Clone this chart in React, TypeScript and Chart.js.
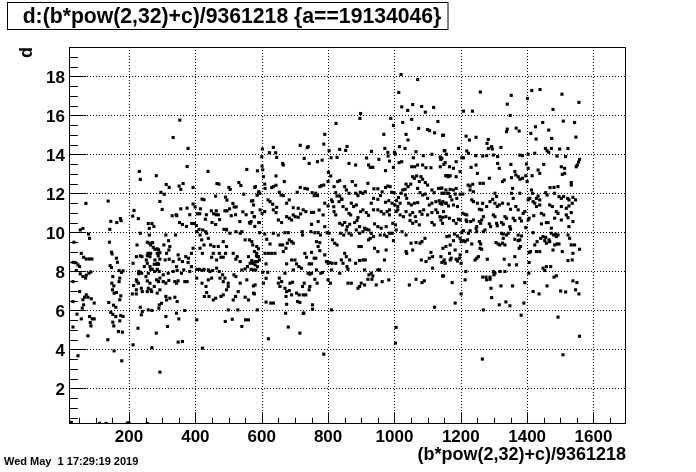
import React, { useEffect, useRef } from "react";
import { Chart, registerables } from "chart.js";

Chart.register(...registerables);

const X_MIN = 19;
const X_MAX = 1698;
const Y_MIN = 0.17;
const Y_MAX = 19.5;
const xTickValues = [200, 400, 600, 800, 1000, 1200, 1400, 1600];
const yTickValues = [2, 4, 6, 8, 10, 12, 14, 16, 18];
const titleText = "d:(b*pow(2,32)+c)/9361218 {a==19134046}";
const xTitle = "(b*pow(2,32)+c)/9361218";
const yTitle = "d";
const dateText = "Wed May  1 17:29:19 2019";

// upper-left region (x < 600, d > 10)
const ptsUpperLeft: number[][] = [
  [70,11.48],[137,11.6],[353,15.75],[333,14.86],[378,14.3],[231,13.12],[234,12.71],[282,12.9],[375,13.37],[438,13.12],[555,13.22],[587,13.15],[312,12.45],[321,12.3],[351,12.37],[363,12.5],[356,12.2],[393,12.3],[465,12.5],[471,12.47],[531,12.55],[537,12.4],[579,12.3],[501,12.3],[505,12.2],[296,12.05],[306,11.95],[546,11.95],[590,12.0],[586,11.9],[461,11.85],[491,11.8],[495,11.65],[420,11.7],[426,11.67],[293,11.58],[300,11.17],[375,11.24],[393,11.45],[399,11.3],[415,11.2],[448,11.1],[463,11.1],[489,11.1],[495,11.1],[513,11.48],[517,11.3],[503,11.2],[523,11.3],[543,11.05],[569,11.6],[575,11.4],[330,10.85],[342,10.9],[344,10.85],[356,11.2],[211,10.83],[215,11.12],[228,10.7],[174,10.7],[176,10.6],[145,10.56],[163,10.5],[61,10.2],[142,10.15],[258,10.45],[269,10.45],[275,10.3],[261,10.2],[352,10.5],[361,10.4],[373,10.3],[389,10.45],[397,10.45],[403,10.35],[406,10.95],[413,10.95],[383,10.9],[433,10.9],[455,10.95],[463,10.9],[469,10.9],[473,10.65],[450,10.5],[461,10.4],[430,10.67],[508,10.85],[521,10.9],[534,10.55],[563,10.5],[568,10.55],[578,10.8],[591,10.5],[486,10.15],[493,10.15],[579,10.3],[411,10.15],[553,10.9]
];

// lower-left region (x < 600, d < 10.6)
const ptsLowerLeft: number[][] = [
  [53,10.12],[34,9.49],[78,9.91],[81,9.69],[56,8.92],[63,8.72],[71,8.63],[81,8.63],[88,8.63],[31,8.46],[38,8.44],[46,8.33],[51,8.24],[41,8.04],[53,7.87],[61,7.73],[71,7.8],[79,7.9],[85,7.97],[69,7.65],[31,7.47],[51,6.96],[71,6.79],[66,6.67],[76,6.67],[86,6.59],[61,6.54],[95,6.37],[31,6.45],[63,6.28],[59,6.11],[43,5.8],[56,5.56],[81,5.68],[89,5.56],[95,5.56],[83,5.37],[85,5.2],[31,5.14],[76,4.69],[46,3.67],[20,0.25],[26,0.25],[111,0.2],[131,0.2],[195,0.22],[200,0.21],[255,0.2],
  [141,9.49],[147,8.98],[149,8.89],[162,8.67],[165,8.46],[143,8.29],[147,8.19],[170,8.04],[177,7.94],[182,8.02],[151,7.73],[172,7.65],[170,7.47],[148,7.39],[154,7.25],[150,7.05],[155,6.88],[162,6.91],[175,6.74],[172,6.54],[139,6.4],[153,6.26],[160,6.16],[145,5.89],[151,5.79],[160,5.68],[175,5.73],[182,5.68],[172,5.46],[151,5.39],[154,5.2],[168,4.91],[180,4.88],[136,4.49],[155,3.92],[178,3.41],
  [210,6.84],[222,6.84],[214,7.27],[222,7.05],[224,7.47],[229,7.99],[234,7.95],[229,7.87],[212,8.41],[222,8.75],[234,8.79],[239,8.75],[224,9.35],[255,9.49],[261,9.44],[271,9.47],[257,8.92],[252,8.58],[255,8.41],[246,8.24],[234,9.95],[261,9.86],[265,9.35],[273,9.23],[278,9.13],[285,9.15],[289,9.1],[265,8.92],[285,8.92],[288,8.79],[293,8.95],[255,8.8],[263,8.75],[278,8.58],[286,8.41],[276,8.36],[283,8.36],[289,8.36],[263,8.24],[265,8.1],[293,8.62],[238,7.9],[270,8.1],[277,7.99],[285,8.1],[291,7.99],[258,7.9],[251,7.73],[255,7.51],[263,7.39],[283,7.56],[293,7.65],
  [311,9.86],[305,9.35],[319,9.57],[323,9.27],[340,9.86],[313,8.92],[320,9.09],[309,8.58],[321,8.62],[333,8.5],[348,8.84],[351,8.62],[361,8.5],[371,8.75],[379,8.67],[343,8.24],[345,8.04],[333,7.99],[318,7.9],[303,7.82],[358,7.9],[365,8.07],[388,8.92],[393,9.18],[378,8.45],[388,8.24],[383,7.99],[422,10.12],[431,10.03],
  [404,8.1],[412,8.1],[420,8.04],[426,8.1],[439,8.07],[444,7.99],[452,8.04],[464,8.16],[472,7.99],[482,7.82],[489,7.65],[499,7.39],[516,7.82],[522,7.73],[540,8.07],[550,8.12],[557,8.24],[565,8.41],[570,8.55],[575,8.07],[580,8.33],[587,8.5],[590,8.75],
  [494,10.12],[504,9.95],[522,10.03],[535,9.95],[540,10.03],[550,9.61],[563,9.61],[573,9.35],[434,9.95],[439,9.69],[446,9.35],[456,9.27],[469,9.27],[484,9.52],[494,9.27],[472,8.92],[477,8.72],[484,8.72],[491,8.92],[514,8.92],[522,8.62],[526,8.75],[535,8.5],[464,8.58],[454,8.92],[449,8.72],[414,9.18],[421,8.92],[419,9.61],[426,9.35],[404,10.03],[414,9.86],[578,9.01],[584,8.79],[593,8.58],[560,8.75],
  [222,7.56],[228,7.39],[289,7.47],[276,7.22],[266,7.05],[258,7.13],[237,7.13],[240,6.96],[255,6.96],[268,6.96],[293,7.05],[285,6.88],[311,7.39],[303,7.47],[320,7.53],[338,7.47],[343,7.39],[348,7.51],[368,7.47],[375,7.47],[311,6.71],[313,6.53],[323,6.62],[338,6.67],[345,6.45],[298,6.36],[291,6.28],[234,6.16],[240,5.94],[237,5.77],[258,6.02],[269,5.99],[290,6.11],[311,5.68],[316,5.17],[343,5.85],[350,5.56],[368,5.99],[227,5.08],[282,4.83],[348,4.37],[361,4.4],[293,2.83],[212,4.23],[269,4.08],[421,4.06],[404,5.51],[427,6.71],[434,6.91],[441,6.71],[432,7.22],[454,6.53],[461,6.62],[477,6.71],[484,6.79],[494,7.05],[499,7.22],[514,6.53],[521,6.71],[529,6.96],[550,6.67],[560,6.53],[575,6.88],[580,7.3],[540,5.17],[551,5.51],[560,5.51],[490,5.43],[499,6.02],[511,5.54],[528,6.02],[484,7.47],[474,7.65],[449,7.65],[439,7.56],[420,7.39],[404,7.65],[535,7.39],[555,7.56]
];

// upper-middle region (600-1160, d > 10)
const ptsUpperMid: number[][] = [
  [1020,18.09],[1070,17.83],[1013,17.17],[1022,16.43],[1040,16.25],[1055,16.55],[1082,16.45],[1093,16.16],[1118,16.4],[1025,15.63],[1052,15.79],[1073,15.33],[1100,15.27],[1106,15.21],[1121,15.1],[1131,15.68],[1145,14.97],[898,16.09],[896,15.84],[824,15.58],[989,15.84],[997,15.48],[968,15.02],[790,15.02],[1035,15.02],[1041,14.73],[716,14.46],[737,14.34],[740,14.39],[602,14.27],[623,14.08],[635,14.35],[642,14.08],[787,14.52],[803,14.18],[835,14.25],[857,14.4],[853,14.2],[931,14.15],[971,14.3],[980,14.1],[1000,14.1],[1003,14.01],[1015,14.39],[1032,14.3],[1065,14.13],[1087,13.93],[1113,14.0],[1138,13.86],[1150,14.18],[1157,14.0],
  [645,13.84],[600,13.87],[601,13.4],[603,13.2],[663,13.53],[665,13.45],[728,13.79],[743,13.53],[768,13.62],[782,13.7],[809,13.82],[827,13.84],[863,13.53],[883,13.45],[916,13.81],[922,13.45],[927,13.33],[935,13.33],[953,13.74],[981,13.91],[985,13.65],[973,13.16],[997,13.33],[1014,13.57],[1022,13.62],[1052,13.36],[1057,13.82],[1061,13.36],[1070,13.45],[1085,13.45],[1095,13.31],[1110,13.31],[1140,13.76],[1149,13.48],[1155,12.9],[1160,12.9],
  [605,12.85],[643,12.89],[668,12.6],[643,12.41],[635,12.34],[630,12.29],[581,12.34],[573,11.62],[609,12.47],[610,12.25],[591,12.08],[593,12.0],[716,12.3],[730,12.25],[738,12.22],[707,12.05],[752,12.03],[758,11.88],[763,12.0],[768,11.88],[775,12.34],[780,12.39],[787,12.42],[801,13.07],[800,12.6],[808,12.89],[653,12.05],[658,11.91],[665,11.88],[619,11.66],[625,11.57],[633,11.44],[645,11.28],[683,11.66],[675,11.49],[695,11.26],[710,11.23],[695,10.89],[701,10.8],[717,10.94],[750,11.02],[756,11.02],[773,11.14],[785,10.89],
  [818,12.34],[823,12.03],[827,11.86],[835,11.86],[842,11.69],[829,12.6],[835,12.65],[813,11.57],[817,11.31],[833,11.57],[840,11.71],[850,12.34],[855,12.17],[863,12.0],[873,12.6],[883,12.41],[883,12.0],[890,11.88],[897,12.05],[905,12.0],[912,12.08],[920,12.51],[938,12.23],[950,12.23],[937,11.74],[950,11.69],[958,11.88],[963,12.07],[973,12.29],[980,12.37],[987,12.34],[992,12.05],[999,12.03],[973,11.54],[983,11.62],[993,11.49],[1001,11.4],[1006,11.62],[1012,11.78],[1020,12.0],[1025,12.17],[1032,12.2],[1035,12.47],[1041,12.34],[1049,12.47],[1055,12.85],[1060,12.77],[1067,12.89],[1075,12.6],[1080,12.85],[1085,12.72],[1093,12.55],[1100,12.42],[1070,12.25],[1077,12.03],[1085,11.91],[1093,11.96],[1100,11.74],[1113,12.17],[1120,12.03],[1133,12.25],[1140,12.25],[1143,12.0],[1155,12.17],[1163,12.0],[1033,11.91],[1037,11.74],
  [1010,11.32],[1017,11.49],[1043,11.49],[1051,11.4],[1060,11.49],[1070,11.52],[1105,11.4],[1113,11.49],[1125,11.57],[1135,11.62],[1143,11.44],[1155,11.49],[1163,11.35],[1005,11.06],[1010,11.15],[1017,10.89],[1027,10.8],[1035,11.06],[1047,10.89],[1055,11.01],[1063,10.8],[1077,11.06],[1083,10.92],[1088,11.15],[1100,10.89],[1113,11.01],[1125,11.15],[1130,11.01],[1137,10.8],[1148,11.06],[1155,10.8],[870,11.49],[877,11.32],[885,11.4],[898,11.06],[905,11.15],[915,11.01],[922,10.87],[930,11.49],[937,11.15],[950,11.15],[960,11.06],[968,10.94],[978,11.06],[985,11.15],[818,11.06],[823,10.89],[845,11.32],[855,11.18],[863,10.97],[868,10.89],[890,10.75],[985,10.89],[571,11.01],[577,10.8],[595,11.15],[601,10.97],[609,11.06],[635,11.15],[643,11.01],[675,10.8],[683,10.72],[725,11.15],[733,11.06],[790,11.49],[800,11.35],[810,11.66],
  [835,10.46],[843,10.38],[850,10.5],[858,10.29],[865,10.41],[880,10.5],[887,10.6],[895,10.29],[910,10.21],[915,10.16],[940,10.43],[950,10.29],[960,10.21],[975,10.29],[995,10.46],[1003,10.38],[1047,10.6],[1055,10.46],[1065,10.55],[1075,10.38],[1113,10.5],[1120,10.38],[1140,10.63],[1145,10.46],[593,10.5],[650,10.63],[660,10.5],[690,10.63],[710,10.77],[750,10.41],[770,10.55],[790,10.29],[565,10.46]
];

// lower-middle region (565-1160, d < 10.6)
const ptsLowerMid: number[][] = [
  [593,9.98],[609,9.91],[615,9.64],[570,9.52],[585,9.27],[590,9.15],[573,8.41],[580,8.5],[585,8.92],[587,8.75],[568,8.1],[582,8.07],[587,8.24],[603,7.95],[618,7.95],[613,7.64],[605,7.39],[575,7.25],[578,6.84],[613,6.42],[627,6.37],[635,6.37],[587,6.02],[620,4.54],[635,9.95],[650,9.86],[625,9.4],[610,8.92],[620,8.92],[630,8.92],[640,8.92],[613,8.38],[655,9.35],[663,9.35],[670,9.98],[680,9.98],[665,9.01],[673,9.18],[683,9.61],[690,9.52],[695,9.44],[677,9.44],[675,8.38],[690,8.58],[700,8.58],[705,8.38],
  [695,8.07],[712,8.24],[720,8.16],[670,7.9],[653,7.65],[660,7.47],[650,7.39],[655,7.22],[670,7.13],[685,7.39],[693,7.44],[675,6.96],[683,7.01],[673,6.71],[690,6.79],[675,6.31],[672,5.85],[705,6.88],[713,6.79],[708,6.45],[715,6.4],[725,6.79],[733,6.79],[725,5.85],[680,5.14],[715,4.83],[722,10.03],[748,10.03],[723,9.86],[760,9.98],[770,9.98],[777,9.86],[765,9.52],[775,9.47],[730,8.92],[735,8.72],[750,8.97],[758,8.67],[763,8.67],[770,9.27],[775,9.06],[743,8.38],[750,8.38],[740,7.9],[745,7.85],[750,7.9],[765,8.07],[778,7.9],[783,7.94],[760,7.59],[767,7.39],[745,7.22],[743,7.05],[728,7.39],[723,7.22],[753,6.28],[753,6.06],[727,5.85],[787,3.75],
  [797,9.98],[803,9.95],[790,8.84],[795,8.5],[800,8.41],[805,8.45],[812,8.41],[810,8.07],[800,7.56],[807,7.39],[810,6.02],[813,9.61],[820,9.44],[827,9.35],[837,9.95],[847,9.86],[855,10.12],[863,9.95],[870,9.86],[850,8.92],[855,8.75],[840,8.58],[845,8.41],[823,8.41],[857,8.24],[860,8.1],[835,7.9],[865,8.58],[883,8.41],[895,8.55],[860,7.39],[870,7.39],[890,7.13],[895,7.22],[900,7.39],[910,7.3],[905,8.58],[912,8.58],[910,8.07],[923,7.82],[930,7.9],[920,7.59],[935,7.76],[932,7.59],[945,7.3],[950,8.07],[955,8.07],[963,7.47],[970,8.58],[975,9.09],[983,7.56],[1005,5.12],[1003,4.32],
  [885,10.12],[895,9.95],[905,10.03],[915,10.15],[923,10.12],[930,9.95],[937,9.78],[940,9.18],[950,9.01],[957,9.86],[970,9.86],[977,9.78],[985,9.95],[993,9.95],[997,9.57],[922,9.61],[927,9.69],[893,9.27],[900,9.27],[1023,10.03],[1035,9.86],[1035,9.01],[1037,8.92],[1050,9.44],[1055,9.09],[1065,9.47],[1077,9.44],[1083,9.52],[1092,9.69],[1110,8.97],[1115,8.75],[1105,8.67],[1081,8.58],[1095,8.5],[1143,8.45],[1150,8.58],[1115,8.16],[1045,7.3],[1065,7.59],[1083,7.42],[1090,7.51],[1145,7.76],[1121,6.16],[1005,10.12]
];

// upper-right region (x > 1138, d > 10)
const ptsUpperRight: number[][] = [
  [1259,17.19],[1352,17.02],[1414,17.27],[1439,17.32],[1505,17.08],[1556,16.66],[1340,16.57],[1401,16.86],[1208,16.21],[1235,16.21],[1478,16.3],[1349,15.99],[1148,14.98],[1447,15.63],[1509,15.7],[1543,15.63],[1425,15.41],[1338,15.16],[1340,15.29],[1367,15.34],[1376,15.19],[1411,15.07],[1465,15.24],[1216,14.93],[1226,14.73],[1246,14.87],[1283,14.76],[1279,14.56],[1427,14.78],[1474,14.81],[1547,14.88],[1293,14.39],[1295,14.27],[1321,14.35],[1283,14.3],[1455,14.3],[1460,14.18],[1465,14.1],[1473,14.3],[1498,14.27],[1523,14.3],[1193,14.3],[1152,14.18],[1218,14.17],[1223,14.05],
  [1203,13.82],[1208,13.82],[1245,13.93],[1266,13.91],[1278,13.93],[1298,13.96],[1311,13.88],[1378,13.96],[1386,13.93],[1403,14.0],[1423,14.05],[1490,13.91],[1516,13.88],[1558,13.74],[1555,13.6],[1143,13.79],[1140,13.74],[1153,13.57],[1166,13.36],[1178,13.28],[1138,13.36],[1186,13.62],[1198,13.11],[1231,13.33],[1246,13.45],[1311,13.53],[1316,13.28],[1351,13.48],[1398,13.5],[1403,13.28],[1450,13.48],[1503,13.36],[1513,13.28],[1551,13.45],[1548,13.36],
  [1156,12.9],[1163,12.85],[1168,12.9],[1186,12.85],[1250,13.02],[1286,12.77],[1268,12.51],[1258,12.51],[1326,12.6],[1331,12.68],[1353,12.8],[1363,13.11],[1366,12.94],[1373,12.85],[1378,12.72],[1386,12.77],[1396,12.9],[1400,12.6],[1415,12.9],[1433,13.19],[1438,13.02],[1513,13.02],[1506,12.97],[1533,12.55],[1533,12.42],[1493,12.34],[1481,12.3],[1469,12.29],[1222,12.42],[1228,12.37],[1236,12.46],[1228,12.17],[1238,12.08],[1143,12.27],[1148,12.0],[1168,12.2],[1178,12.17],[1186,12.25],[1183,11.96],[1198,11.95],[1206,11.96],[1158,12.0],[1168,11.83],[1303,12.0],[1308,11.83],[1356,12.25],[1353,12.0],[1358,11.74],[1378,12.0],[1413,12.17],[1416,12.0],[1428,11.74],[1433,11.86],[1438,11.66],[1456,12.03],[1460,11.91],[1483,12.0],[1496,11.83],[1503,11.74],[1510,11.83],[1522,11.74],[1526,11.66],[1538,11.79],[1546,11.66],[1536,11.49],
  [1138,11.49],[1146,11.57],[1156,11.49],[1173,11.66],[1178,11.4],[1188,11.74],[1190,11.32],[1206,10.97],[1213,10.92],[1218,10.89],[1233,11.66],[1238,11.57],[1250,11.49],[1256,11.18],[1263,11.15],[1266,11.49],[1278,11.32],[1288,11.57],[1296,11.69],[1303,11.49],[1310,11.32],[1316,11.4],[1326,11.49],[1343,11.45],[1350,11.18],[1366,11.32],[1373,11.15],[1388,10.97],[1393,11.06],[1403,11.66],[1408,11.74],[1418,11.57],[1423,11.49],[1428,11.32],[1438,11.4],[1443,10.97],[1450,10.89],[1468,11.4],[1476,11.32],[1488,11.06],[1493,10.97],[1503,11.32],[1518,11.23],[1526,11.35],[1533,11.01],[1518,10.89],[1523,10.75],[1503,10.63],[1483,10.72],[1458,10.5],[1463,10.5],[1443,10.43],[1420,10.85],[1403,10.63],[1406,10.72],[1378,10.72],[1383,10.58],[1358,10.72],[1363,10.6],[1333,10.8],[1338,10.72],[1323,10.5],[1328,10.41],[1298,10.89],[1303,10.8],[1286,10.43],[1290,10.29],[1268,10.8],[1263,10.63],[1256,10.55],[1260,10.46],[1238,10.63],[1230,10.55],[1216,10.63],[1218,10.55],[1198,10.63],[1193,10.67],[1178,10.6],[1186,10.46],[1166,10.72],[1146,10.77],[1348,10.29],[1350,10.16],[1396,10.24],[1473,10.21],[1538,10.55],[1526,10.29],[1308,10.46],[1310,10.33],[1248,10.29]
];

// lower-right region (x > 1138, d < 10.6)
const ptsLowerRight: number[][] = [
  [1158,9.78],[1166,9.81],[1178,9.57],[1181,9.91],[1190,9.81],[1198,9.69],[1201,9.52],[1208,9.57],[1213,9.52],[1203,9.98],[1208,10.08],[1223,9.95],[1228,10.08],[1220,9.61],[1233,9.4],[1168,9.35],[1183,9.09],[1155,9.27],[1146,9.18],[1218,9.01],[1198,8.84],[1196,8.67],[1201,8.41],[1186,8.62],[1190,8.53],[1166,8.92],[1171,8.67],[1148,8.5],[1153,8.41],[1140,8.75],[1168,8.58],
  [1246,10.2],[1248,10.03],[1256,9.52],[1260,9.4],[1258,9.18],[1263,9.13],[1243,8.58],[1248,8.67],[1253,8.75],[1268,10.03],[1273,10.12],[1280,8.62],[1306,9.47],[1313,9.4],[1318,9.35],[1326,9.44],[1323,9.95],[1328,9.91],[1338,9.86],[1343,9.95],[1333,9.35],[1328,9.69],[1363,9.64],[1373,9.57],[1378,9.61],[1373,9.86],[1383,9.81],[1376,9.18],[1380,9.27],[1363,8.75],[1346,8.33],[1368,8.33],[1331,8.62],[1333,7.99],[1298,7.99],[1303,7.9],[1300,7.82],[1318,7.99],[1266,7.7],[1276,7.7],[1288,7.7],[1288,7.59],[1278,7.56],[1215,7.99],[1213,7.56],[1174,7.42],[1148,7.76],[1291,7.13],[1321,7.25],[1356,7.25],[1293,6.65],[1201,6.84],[1183,6.37],[1268,6.02],[1316,6.28],[1336,6.43],[1348,6.23],[1390,6.37],[1393,7.42],[1382,5.75],[1265,3.5],
  [1406,8.96],[1410,9.01],[1406,8.45],[1405,7.9],[1418,9.98],[1428,9.01],[1438,9.01],[1423,9.35],[1430,9.52],[1441,9.69],[1448,9.78],[1456,9.74],[1453,9.57],[1458,9.44],[1466,9.61],[1468,9.52],[1473,9.95],[1480,9.86],[1486,9.91],[1488,9.78],[1483,9.35],[1490,9.4],[1496,9.4],[1478,9.09],[1493,9.86],[1506,9.01],[1523,9.86],[1528,9.69],[1533,9.35],[1543,9.35],[1538,8.92],[1558,9.13],[1536,8.58],[1523,8.55],[1448,8.16],[1453,8.04],[1458,8.24],[1471,8.24],[1460,7.25],[1418,6.96],[1436,6.84],[1481,7.7],[1488,7.77],[1501,6.99],[1516,6.94],[1538,7.51],[1550,7.42],[1546,7.05],[1556,6.84],[1493,5.65],[1558,4.67],[1508,3.72]
];

const allPoints = [
  ...ptsUpperLeft,
  ...ptsLowerLeft,
  ...ptsUpperMid,
  ...ptsLowerMid,
  ...ptsUpperRight,
  ...ptsLowerRight,
].map(([x, y]) => ({ x, y }));

const FONT = "'Liberation Sans', Arial, Helvetica, sans-serif";

const rootStylePlugin = {
  id: "rootStyle",
  beforeDraw(chart: any) {
    const ctx = chart.ctx;
    ctx.save();
    ctx.fillStyle = "#ffffff";
    ctx.fillRect(0, 0, chart.width, chart.height);
    ctx.restore();
  },
  beforeDatasetsDraw(chart: any) {
    const { ctx, chartArea: a, scales } = chart;
    const xs = scales.x;
    const ys = scales.y;
    ctx.save();
    ctx.strokeStyle = "#000";
    ctx.lineWidth = 1;
    ctx.setLineDash([1, 2]);
    for (const v of xTickValues) {
      const px = Math.round(xs.getPixelForValue(v)) + 0.5;
      ctx.beginPath();
      ctx.moveTo(px, a.top);
      ctx.lineTo(px, a.bottom);
      ctx.stroke();
    }
    for (const v of yTickValues) {
      const py = Math.round(ys.getPixelForValue(v)) + 0.5;
      ctx.beginPath();
      ctx.moveTo(a.left, py);
      ctx.lineTo(a.right, py);
      ctx.stroke();
    }
    ctx.restore();
  },
  afterDatasetsDraw(chart: any) {
    const { ctx, chartArea: a, scales } = chart;
    const xs = scales.x;
    const ys = scales.y;
    ctx.save();
    ctx.strokeStyle = "#000";
    ctx.lineWidth = 1;
    ctx.setLineDash([]);
    const L = Math.round(a.left) + 0.5;
    const R = Math.round(a.right) - 0.5;
    const T = Math.round(a.top) + 0.5;
    const B = Math.round(a.bottom) - 0.5;
    ctx.strokeRect(L, T, R - L, B - T);

    // x ticks (major every 200, minor every 50)
    for (let v = 50; v < X_MAX; v += 50) {
      const major = v % 200 === 0;
      const len = major ? 11.3 : 5.7;
      const px = Math.round(xs.getPixelForValue(v)) + 0.5;
      ctx.beginPath();
      ctx.moveTo(px, B);
      ctx.lineTo(px, B - len);
      ctx.stroke();
    }
    // y ticks (major every 2, minor every 0.5)
    for (let v = 0.5; v < Y_MAX; v += 0.5) {
      const major = Math.abs(v % 2) < 1e-9;
      const len = major ? 16.7 : 8.4;
      const py = Math.round(ys.getPixelForValue(v)) + 0.5;
      ctx.beginPath();
      ctx.moveTo(L, py);
      ctx.lineTo(L + len, py);
      ctx.stroke();
    }

    ctx.fillStyle = "#000";
    ctx.font = `bold 17px ${FONT}`;
    ctx.textAlign = "center";
    ctx.textBaseline = "alphabetic";
    for (const v of xTickValues) {
      ctx.fillText(String(v), xs.getPixelForValue(v), 441.5);
    }
    ctx.textAlign = "right";
    for (const v of yTickValues) {
      ctx.fillText(String(v), a.left - 4, ys.getPixelForValue(v) + 7);
    }

    // axis titles
    ctx.font = `bold 18px ${FONT}`;
    ctx.textAlign = "right";
    ctx.fillText(xTitle, a.right, 459.5);

    ctx.save();
    ctx.translate(32, a.top);
    ctx.rotate(-Math.PI / 2);
    ctx.font = `bold 18px ${FONT}`;
    ctx.textAlign = "right";
    ctx.fillText(yTitle, 0, 0);
    ctx.restore();

    // title box
    ctx.fillStyle = "#fff";
    ctx.fillRect(7, 2, 441, 28);
    ctx.strokeRect(7.5, 2.5, 440.5, 27);
    ctx.fillStyle = "#000";
    ctx.font = `bold 21.2px ${FONT}`;
    ctx.textAlign = "center";
    ctx.fillText(titleText, 232, 22.5);

    // date
    ctx.font = `bold 11px ${FONT}`;
    ctx.textAlign = "left";
    ctx.fillText(dateText, 4, 465);
    ctx.restore();
  },
};

export default function App() {
  const canvasRef = useRef<HTMLCanvasElement | null>(null);

  useEffect(() => {
    document.body.style.margin = "0";
    const canvas = canvasRef.current;
    if (!canvas) return;
    const chart = new Chart(canvas, {
      type: "scatter",
      data: {
        datasets: [
          {
            label: "d",
            data: allPoints,
            pointStyle: "rect",
            pointRadius: 2.2,
            pointHoverRadius: 2.2,
            pointBorderWidth: 0,
            borderWidth: 0,
            backgroundColor: "#000",
            borderColor: "#000",
          },
        ],
      },
      options: {
        responsive: false,
        animation: false,
        events: [],
        layout: { padding: { left: 69, right: 70, top: 47, bottom: 48 } },
        plugins: {
          legend: { display: false },
          tooltip: { enabled: false },
          title: { display: false },
        },
        scales: {
          x: { type: "linear", min: X_MIN, max: X_MAX, display: false },
          y: { type: "linear", min: Y_MIN, max: Y_MAX, display: false },
        },
      },
      plugins: [rootStylePlugin],
    });
    return () => chart.destroy();
  }, []);

  return (
    <div style={{ position: "absolute", left: 0, top: 0, width: 696, height: 472 }}>
      <canvas ref={canvasRef} width={696} height={472} style={{ width: 696, height: 472, display: "block" }} />
    </div>
  );
}
